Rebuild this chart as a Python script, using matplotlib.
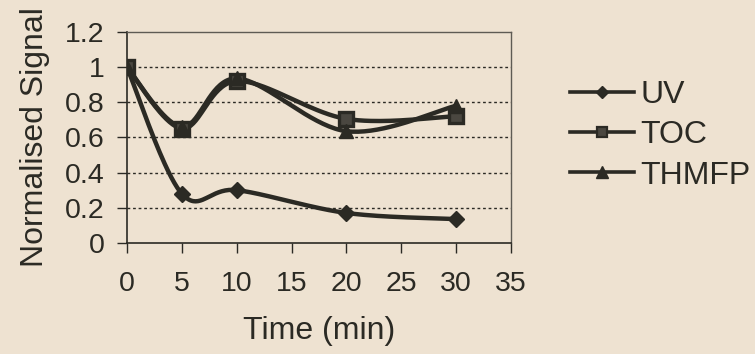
import numpy as np
import matplotlib
matplotlib.use("Agg")
import matplotlib.pyplot as plt
from matplotlib.lines import Line2D

time_min = [0, 5, 10, 20, 30]
uv = [1.0, 0.28, 0.30, 0.17, 0.135]
toc = [1.0, 0.65, 0.92, 0.705, 0.72]
thmfp = [1.0, 0.66, 0.935, 0.635, 0.78]

series_names = ["UV", "TOC", "THMFP"]
x_ticks = [0, 5, 10, 15, 20, 25, 30, 35]
y_ticks = [0, 0.2, 0.4, 0.6, 0.8, 1.0, 1.2]
y_tick_labels = ["0", "0.2", "0.4", "0.6", "0.8", "1", "1.2"]

BG = "#EEE2D1"
INK = "#2B2A24"

plt.rcParams["font.family"] = ["Liberation Sans", "DejaVu Sans"]


def smooth(xs, ys, n=40):
    """Bezier smoothing through every point (Catmull-Rom style control points)."""
    p = np.column_stack([xs, ys]).astype(float)
    out = [p[0]]
    for i in range(len(p) - 1):
        p0 = p[i - 1] if i > 0 else p[i]
        p1, p2 = p[i], p[i + 1]
        p3 = p[i + 2] if i + 2 < len(p) else p[i + 1]
        c1 = p1 + (p2 - p0) / 6.0
        c2 = p2 - (p3 - p1) / 6.0
        t = np.linspace(0, 1, n)[1:, None]
        seg = ((1 - t) ** 3) * p1 + 3 * ((1 - t) ** 2) * t * c1 + 3 * (1 - t) * t ** 2 * c2 + t ** 3 * p2
        out.extend(seg)
    out = np.array(out)
    return out[:, 0], out[:, 1]


fig = plt.figure(figsize=(7.55, 3.54), dpi=100, facecolor=BG)
ax = fig.add_axes([0.168, 0.314, 0.509, 0.596], facecolor=BG)

styles = [
    dict(marker="D", ms=8, mfc=INK, mec=INK),
    dict(marker="s", ms=9.5, mfc="#4A4740", mec=INK, mew=2.4),
    dict(marker="^", ms=10, mfc=INK, mec=INK),
]
legend_sizes = [6.5, 7.5, 8.5]

handles = []
for name, vals, st, lsz in zip(series_names, [uv, toc, thmfp], styles, legend_sizes):
    sx, sy = smooth(time_min, vals)
    ax.plot(sx, sy, color=INK, lw=3.2, zorder=3, solid_capstyle="round")
    ax.plot(time_min, vals, ls="none", zorder=4, **st)
    hs = dict(st)
    hs["ms"] = lsz
    hs["mew"] = 1.6 if st["marker"] == "s" else 1.0
    handles.append(Line2D([], [], color=INK, lw=2.6, **hs))

ax.set_xlim(0, 35)
ax.set_ylim(0, 1.2)
ax.set_xticks(x_ticks)
ax.set_yticks(y_ticks)
ax.set_yticklabels(y_tick_labels)

for y in y_ticks[1:-1]:
    ax.axhline(y, color=INK, lw=1.0, ls=(0, (2, 2)), zorder=1)

for side in ["left", "bottom"]:
    ax.spines[side].set_color(INK)
    ax.spines[side].set_linewidth(1.2)
for side in ["top", "right"]:
    ax.spines[side].set_color("#5E5B54")
    ax.spines[side].set_linewidth(1.0)

ax.tick_params(axis="both", colors=INK, labelsize=20.5, direction="out", length=7, width=1.0)
ax.tick_params(axis="x", pad=13)
ax.tick_params(axis="y", pad=9)

ax.set_xlabel("Time (min)", fontsize=23, color=INK, labelpad=14)
ax.set_ylabel("Normalised Signal", fontsize=23, color=INK, labelpad=11)

leg = fig.legend(handles=handles, labels=series_names, loc="upper left",
                 bbox_to_anchor=(0.717, 0.855), frameon=False, fontsize=23,
                 handlelength=2.0, handletextpad=0.2, labelspacing=0.32,
                 labelcolor=INK)

fig.savefig("out.png", dpi=100, facecolor=BG)
